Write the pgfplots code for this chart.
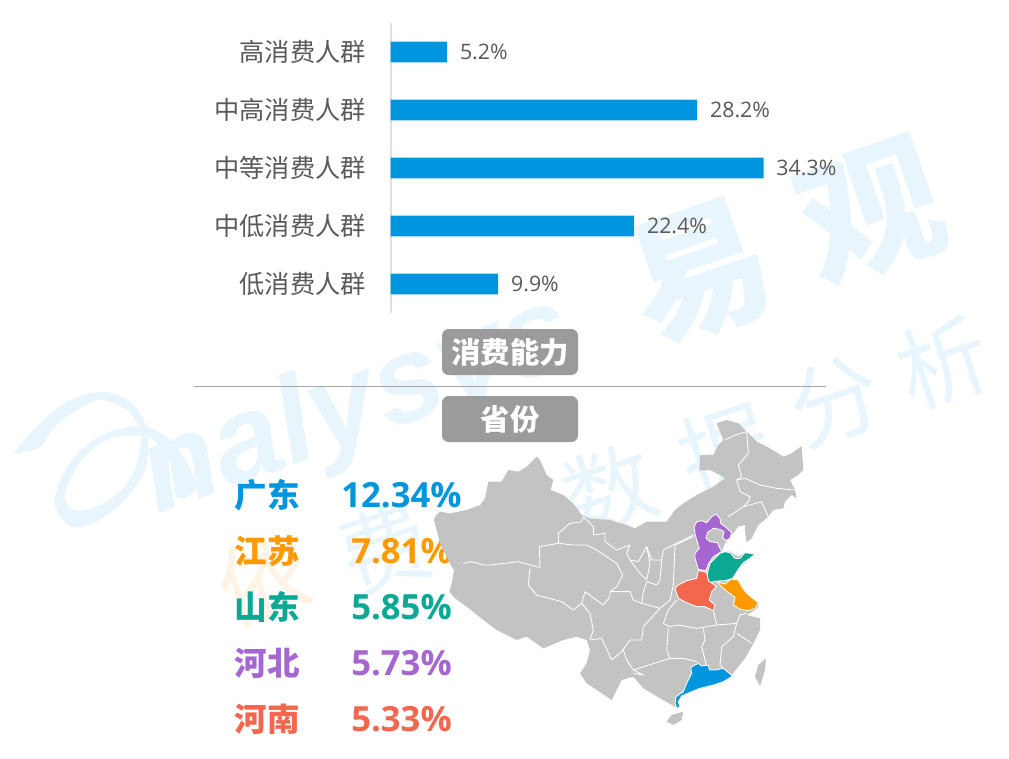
\documentclass[border=0pt]{standalone}
\usepackage{pgfplots}
\pgfplotsset{compat=1.18}
\usepackage{fontspec}
\setmainfont{Open Sans}
\newfontfamily\cjk{Noto Sans CJK SC}
\newfontfamily\wmlat{Liberation Sans}
\definecolor{wm}{HTML}{E9F5FC}
\definecolor{wmo}{HTML}{FFF3E6}
\definecolor{barblue}{HTML}{0096DF}
\definecolor{txt}{HTML}{595959}
\definecolor{badge}{HTML}{9B9B9B}
\definecolor{mapgrey}{HTML}{C3C3C3}
\definecolor{cblue}{HTML}{0096DF}
\definecolor{corange}{HTML}{FF9900}
\definecolor{cteal}{HTML}{0BA893}
\definecolor{cpurple}{HTML}{A566D1}
\definecolor{ccoral}{HTML}{F4674F}
\newcommand\bd[1]{\addplot[white,line width=0.65pt,line join=round] coordinates {#1};}
\begin{document}
\begin{tikzpicture}
\useasboundingbox (0,0) rectangle (756.75pt,568.5pt);
% page-wide axis in reference pixels: watermark and captions
\begin{axis}[at={(0,0)},anchor=south west,scale only axis,width=756.75pt,height=568.5pt,
  xmin=0,xmax=1009,ymin=0,ymax=758,y dir=reverse,hide axis,clip=false]
 \addplot[fill=wm,draw=none,smooth,tension=0.6] coordinates {(13,454) (40,423) (70,400) (100,392) (123,397) (140,413) (147,430) (140,428) (127,410) (100,400) (77,410) (53,428) (40,447) (13,454)};
 \addplot[fill=wm,draw=none,smooth,tension=0.7] coordinates {(147,432) (127,428) (97,438) (70,463) (55,497) (63,520) (80,527) (110,513) (133,490) (147,463) (147,432)};
 \addplot[fill=white,draw=none,smooth,tension=0.7] coordinates {(142,436) (112,438) (85,457) (67,487) (68,505) (85,510) (113,497) (133,473) (142,436)};
 \addplot[fill=wm,draw=none,smooth,tension=0.6] coordinates {(123,428) (147,427) (170,440) (187,463) (197,488) (177,497) (170,463) (157,443) (140,433) (123,428)};
 \node[wm,rotate=20] at (axis cs:358,408) {\wmlat\fontsize{92pt}{92pt}\selectfont\bfseries\itshape nalysys};
 \node[wm,rotate=19] at (axis cs:700,273) {\cjk\fontsize{106pt}{106pt}\selectfont\bfseries 易};
 \node[wm,rotate=19] at (axis cs:871,213) {\cjk\fontsize{106pt}{106pt}\selectfont\bfseries 观};
 \node[wmo,rotate=18] at (axis cs:263,580) {\cjk\fontsize{68pt}{68pt}\selectfont 依};
 \node[wm,rotate=18] at (axis cs:384,550) {\cjk\fontsize{68pt}{68pt}\selectfont 费};
 \node[wm,rotate=18] at (axis cs:610,490) {\cjk\fontsize{68pt}{68pt}\selectfont 数};
 \node[wm,rotate=18] at (axis cs:725,450) {\cjk\fontsize{68pt}{68pt}\selectfont 据};
 \node[wm,rotate=18] at (axis cs:835,402) {\cjk\fontsize{68pt}{68pt}\selectfont 分};
 \node[wm,rotate=18] at (axis cs:943,363) {\cjk\fontsize{68pt}{68pt}\selectfont 析};
 \addplot[color=black!35,line width=0.75pt] coordinates {(194,386) (826,386)};
 \node[fill=badge,rounded corners=5pt,minimum width=102pt,minimum height=34.5pt,inner sep=0pt,text=white] at (axis cs:510,352) {\cjk\fontsize{22pt}{22pt}\selectfont\bfseries 消费能力};
 \node[fill=badge,rounded corners=5pt,minimum width=102pt,minimum height=34.5pt,inner sep=0pt,text=white] at (axis cs:510,419) {\cjk\fontsize{22pt}{22pt}\selectfont\bfseries 省份};
 \node[cblue] at (axis cs:267,495) {\cjk\fontsize{24.4pt}{24.4pt}\selectfont\bfseries 广东};
 \node[corange] at (axis cs:267,551) {\cjk\fontsize{24.4pt}{24.4pt}\selectfont\bfseries 江苏};
 \node[cteal] at (axis cs:267,607) {\cjk\fontsize{24.4pt}{24.4pt}\selectfont\bfseries 山东};
 \node[cpurple] at (axis cs:267,663) {\cjk\fontsize{24.4pt}{24.4pt}\selectfont\bfseries 河北};
 \node[ccoral] at (axis cs:267,719) {\cjk\fontsize{24.4pt}{24.4pt}\selectfont\bfseries 河南};
 \node[cblue] at (axis cs:401.5,495) {\fontsize{26pt}{26pt}\selectfont\bfseries 12.34\%};
 \node[corange] at (axis cs:401.5,551) {\fontsize{26pt}{26pt}\selectfont\bfseries 7.81\%};
 \node[cteal] at (axis cs:401.5,607) {\fontsize{26pt}{26pt}\selectfont\bfseries 5.85\%};
 \node[cpurple] at (axis cs:401.5,663) {\fontsize{26pt}{26pt}\selectfont\bfseries 5.73\%};
 \node[ccoral] at (axis cs:401.5,719) {\fontsize{26pt}{26pt}\selectfont\bfseries 5.33\%};
\end{axis}
% bar chart
\begin{axis}[at={(292.9pt,333.75pt)},anchor=south west,scale only axis,width=326.25pt,height=217.5pt,
  xbar,bar width=15.4pt,bar shift=0pt,xmin=0,xmax=40,ymin=-0.5,ymax=4.5,y dir=reverse,
  axis x line=none,axis y line*=left,y axis line style={color=black!12,line width=1.5pt,-},
  ytick={0,1,2,3,4},yticklabels={高消费人群,中高消费人群,中等消费人群,中低消费人群,低消费人群},
  major tick length=0pt,
  yticklabel style={font=\cjk\fontsize{18.9pt}{18.9pt}\selectfont,text=txt,inner sep=0pt,xshift=-18.5pt},
  nodes near coords={\pgfmathprintnumber[fixed,fixed zerofill,precision=1,assume math mode=true]{\pgfplotspointmeta}\%},
  point meta=explicit,
  nodes near coords style={font=\fontsize{16pt}{16pt}\selectfont,text=txt,anchor=west,inner sep=0pt,xshift=9.5pt},
  clip=false]
 \addplot[fill=barblue,draw=none] coordinates {(5.2,0) [5.2] (28.2,1) [28.2] (34.3,2) [34.3] (22.4,3) [22.4] (9.9,4) [9.9]};
\end{axis}
% map, in the coordinates of a 3x crop of its region
\begin{axis}[at={(322.5pt,13.5pt)},anchor=south west,scale only axis,width=292.5pt,height=247.5pt,
  xmin=0,xmax=1170,ymin=0,ymax=990,y dir=reverse,hide axis,clip=false]
 \addplot[fill=mapgrey,draw=none] coordinates {(15,320) (30,305) (60,310) (110,300) (150,285) (165,265) (175,215) (215,215) (235,180) (265,185) (290,170) (320,140) (330,150) (350,195) (370,210) (362,240) (400,255) (430,280) (455,315) (480,325) (540,330) (590,345) (615,355) (650,335) (710,335) (735,300) (760,280) (800,255) (850,230) (885,205) (870,195) (840,180) (808,182) (810,135) (850,135) (865,105) (880,90) (860,40) (890,30) (925,40) (950,65) (980,95) (1020,115) (1060,140) (1085,130) (1115,108) (1120,180) (1105,195) (1080,210) (1095,240) (1100,265) (1085,255) (1065,275) (1060,295) (1030,300) (1015,320) (985,345) (965,385) (950,397) (945,365) (945,345) (925,350) (905,375) (885,400) (875,425) (900,425) (925,440) (945,428) (975,432) (950,455) (925,475) (905,510) (925,510) (950,550) (985,578) (985,590) (975,600) (950,615) (990,625) (990,660) (975,690) (965,710) (945,745) (905,795) (870,820) (800,840) (750,860) (735,875) (745,895) (735,890) (690,865) (640,835) (610,800) (575,810) (545,870) (515,850) (470,820) (450,790) (470,760) (480,720) (470,690) (440,680) (400,690) (340,715) (290,680) (260,690) (200,660) (160,630) (110,590) (75,565) (58,545) (65,520) (72,480) (65,470) (30,400) (12,330)} -- cycle;
 \addplot[fill=mapgrey,draw=none] coordinates {(710,935) (725,915) (760,905) (755,930) (730,945)} -- cycle;
 \addplot[fill=mapgrey,draw=none] coordinates {(975,800) (985,765) (1008,745) (1005,780) (990,828)} -- cycle;
 \bd{(100,460) (125,455) (160,465) (180,465) (265,455) (300,465) (330,472)}
 \bd{(330,472) (328,410) (385,400)}
 \bd{(385,400) (385,370) (420,340) (455,335) (460,320)}
 \bd{(385,400) (430,405) (470,405) (500,420) (530,440) (560,460) (578,495) (560,530) (540,545) (540,560)}
 \bd{(300,475) (295,525) (320,555) (395,575) (430,600) (455,580)}
 \bd{(455,580) (480,610) (490,660) (480,690)}
 \bd{(455,580) (465,545) (520,585) (540,560)}
 \bd{(460,320) (490,350) (490,375) (525,370) (525,395) (560,420) (600,405) (590,430) (600,450) (625,455) (650,410) (665,450) (695,450) (700,420) (730,405) (790,375)}
 \bd{(650,410) (660,460) (650,510) (630,490) (600,450)}
 \bd{(695,450) (690,510) (680,525) (650,515) (640,545) (635,580) (690,595)}
 \bd{(540,545) (575,545) (600,545) (610,570) (635,580)}
 \bd{(790,380) (735,405) (730,525) (720,570) (690,595)}
 \bd{(895,320) (940,290) (995,275) (1015,320)}
 \bd{(920,210) (945,205) (990,225) (1040,235) (1095,240)}
 \bd{(885,90) (915,75) (950,65) (955,130) (925,165) (935,200) (920,210)}
 \bd{(920,210) (930,245) (960,260) (955,275) (940,290)}
 \bd{(740,570) (715,600) (700,640) (720,650) (745,645) (800,655) (860,645) (920,640)}
 \bd{(850,600) (860,645)}
 \bd{(920,640) (930,615) (950,610)}
 \bd{(920,640) (910,680) (875,710) (870,765) (880,775)}
 \bd{(820,655) (825,690) (815,710) (830,770)}
 \bd{(715,655) (710,720) (720,745) (610,780)}
 \bd{(610,780) (640,795) (610,790)}
 \bd{(690,595) (640,650) (635,690) (600,690) (575,725) (545,750)}
 \bd{(480,690) (515,685) (545,750)}
 \bd{(580,720) (590,750) (610,780)}
 \bd{(920,670) (965,700)}
 \bd{(720,745) (760,745) (800,755)}
 \addplot[fill=cpurple,draw=white,line width=0.65pt] coordinates {(792,352) (800,335) (815,332) (830,338) (845,320) (858,312) (870,325) (872,340) (888,352) (905,368) (900,385) (888,392) (878,382) (882,365) (870,358) (850,355) (832,368) (828,385) (840,395) (862,398) (875,425) (850,440) (835,462) (828,482) (805,478) (795,445) (795,430) (808,415) (800,390) (795,370)} -- cycle;
 \addplot[fill=cteal,draw=white,line width=0.65pt] coordinates {(835,478) (840,460) (870,430) (885,425) (900,428) (915,445) (930,445) (945,428) (975,432) (960,445) (940,458) (925,478) (908,505) (885,512) (860,513) (838,518) (830,500)} -- cycle;
 \addplot[fill=ccoral,draw=white,line width=0.65pt] coordinates {(735,535) (745,525) (770,512) (800,505) (805,482) (830,487) (835,512) (860,530) (845,545) (838,570) (855,585) (850,602) (825,590) (800,590) (770,578) (745,565)} -- cycle;
 \addplot[fill=corange,draw=white,line width=0.65pt] coordinates {(860,515) (885,522) (905,507) (925,510) (935,530) (950,550) (985,578) (975,595) (955,602) (930,598) (910,585) (915,562) (895,548) (875,530)} -- cycle;
 \addplot[fill=cblue,draw=white,line width=0.65pt] coordinates {(805,760) (815,768) (835,765) (838,780) (855,780) (880,775) (908,798) (880,815) (850,825) (810,835) (785,845) (755,858) (745,875) (750,890) (740,895) (735,880) (738,860) (760,845) (770,820) (785,790) (782,772)} -- cycle;
\end{axis}
\end{tikzpicture}
\end{document}
